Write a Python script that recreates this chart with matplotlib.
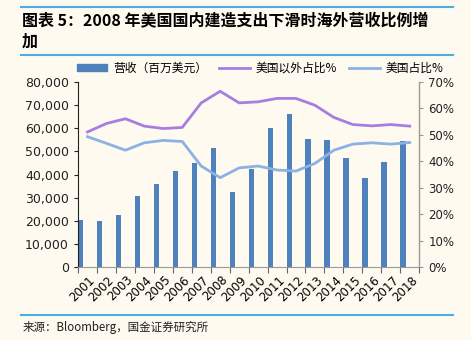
import matplotlib.pyplot as plt
from matplotlib.patches import Patch
from matplotlib.lines import Line2D
from matplotlib.ticker import FuncFormatter

plt.rcParams['font.family'] = ['Noto Sans CJK SC', 'DejaVu Sans']

years = [str(y) for y in range(2001, 2019)]
revenue = [20500, 20000, 22500, 30500, 36000, 41500, 45000, 51500, 32500,
           42500, 60000, 66000, 55500, 55000, 47000, 38500, 45500, 54500]
non_us_pct = [51.1, 54.3, 56.1, 53.3, 52.4, 52.8, 62.1, 66.5, 62.1,
              62.5, 63.8, 63.8, 61.2, 56.6, 53.9, 53.4, 53.9, 53.3]
us_pct = [49.3, 46.8, 44.2, 47.0, 47.9, 47.5, 38.2, 33.8, 37.5,
          38.2, 36.7, 36.3, 39.2, 44.2, 46.5, 47.0, 46.5, 47.1]

bg = '#FEFAF0'
bar_c = '#4F81BD'
purple = '#A77EE0'
lblue = '#8CB1E3'
rule_c = '#4AAEE3'

fig = plt.figure(figsize=(4.71, 3.40), dpi=100, facecolor=bg)
ax = fig.add_axes([0.1656, 0.2147, 0.7244, 0.5441])
ax.set_facecolor(bg)
ax2 = ax.twinx()

x = list(range(len(years)))
ax.bar([i - 0.5 for i in x], revenue, width=0.29, align='edge', color=bar_c, zorder=2)
ax2.plot(x, non_us_pct, color=purple, lw=2.0, solid_joinstyle='round')
ax2.plot(x, us_pct, color=lblue, lw=2.0, solid_joinstyle='round')

ax.set_xlim(-0.5, len(years) - 0.5)
ax.set_ylim(0, 80000)
ax.set_yticks(range(0, 80001, 10000))
ax.yaxis.set_major_formatter(FuncFormatter(lambda v, p: f'{int(v):,}'))
ax2.set_ylim(0, 70)
ax2.set_yticks(range(0, 71, 10))
ax2.yaxis.set_major_formatter(FuncFormatter(lambda v, p: f'{int(v)}%'))

# ticks sit on the category boundaries, labels under the category centres
ax.set_xticks([i - 0.5 for i in x] + [len(years) - 0.5])
ax.set_xticklabels([''] * (len(years) + 1))
for i, y in enumerate(years):
    ax.text(i + 0.05, -0.035, y, transform=ax.get_xaxis_transform(),
            rotation=45, ha='right', va='top', fontsize=8.5, family='DejaVu Sans',
            rotation_mode='anchor')

for a in (ax, ax2):
    a.spines['top'].set_visible(False)
ax.spines['left'].set_color('#222222')
ax.spines['bottom'].set_color('#999999')
ax2.spines['right'].set_color('#999999')
ax2.spines['left'].set_visible(False)
ax2.spines['bottom'].set_visible(False)
ax.tick_params(axis='y', length=3, labelsize=9, width=0.8, colors='#222222')
ax.tick_params(axis='x', length=4, color='#666666')
ax2.tick_params(axis='y', length=3, labelsize=8.5, color='#999999', labelcolor='#222222')
for t in ax.get_yticklabels() + ax2.get_yticklabels():
    t.set_family('DejaVu Sans')

handles = [Patch(color=bar_c, label='营收（百万美元）'),
           Line2D([], [], color=purple, lw=2, label='美国以外占比%'),
           Line2D([], [], color=lblue, lw=2, label='美国占比%')]
fig.legend(handles=handles, loc='center', bbox_to_anchor=(0.552, 0.80), ncol=3,
           frameon=False, fontsize=8.5, handlelength=2.6, handleheight=0.5,
           columnspacing=1.0, handletextpad=0.5)

# header and footer rules
for yy in (0.979, 0.838, 0.0735):
    fig.add_artist(Line2D([0.0446, 0.962], [yy, yy], color=rule_c, lw=1.5))
fig.text(0.047, 0.941, '图表 5：2008 年美国国内建造支出下滑时海外营收比例增',
         fontsize=11.5, fontweight='bold', va='center', ha='left', style='italic')
fig.text(0.047, 0.876, '加', fontsize=11.5, fontweight='bold', va='center', ha='left',
         style='italic')
fig.text(0.047, 0.038, '来源：Bloomberg，国金证券研究所', fontsize=8.3, va='center', ha='left',
         color='#222222')

fig.savefig('out.png', dpi=100, facecolor=bg)
